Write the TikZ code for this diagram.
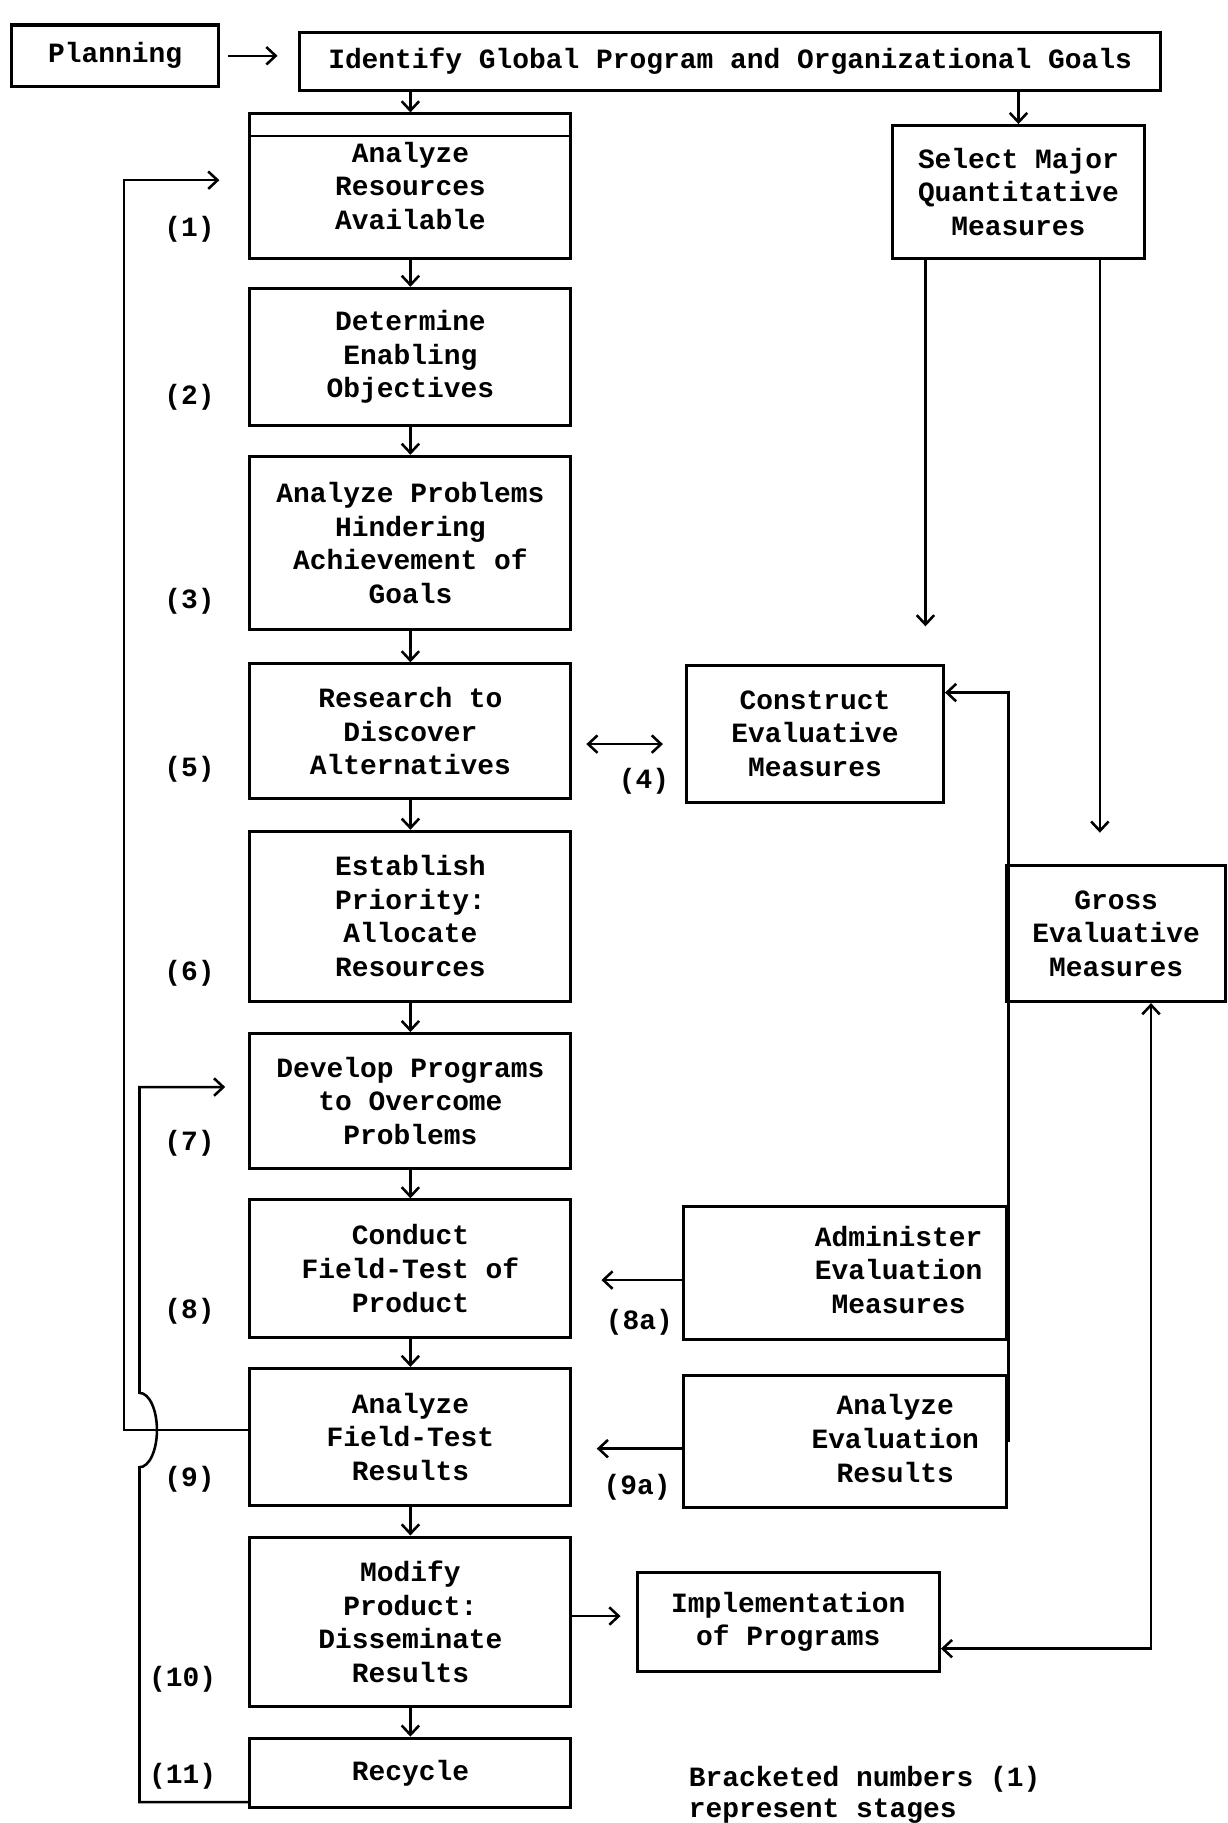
\documentclass[tikz,border=0pt]{standalone}
\usepackage{fontspec}
\setmainfont{Liberation Mono}
\usetikzlibrary{arrows.meta,calc}

\begin{document}
\begin{tikzpicture}[x=1pt,y=-1pt,line width=2.2pt,font=\fontsize{24}{29}\selectfont\bfseries,
  >={Straight Barb[length=8pt,width=15pt]},
  frame/.style={draw,line width=2.6pt,inner sep=2pt},
  box/.style={frame,align=center,minimum width=276},
  stg/.style={inner sep=1pt}]
\useasboundingbox (0,0) rectangle (1056,1568);
\node (plan) [box,minimum width=178,minimum height=53] at (99,48) {Planning};
\node (goals) [box,minimum width=740,minimum height=50] at (628,53) {Identify Global Program and Organizational Goals};
\node (s1) [box,minimum height=124] at (353,160) {Analyze\\Resources\\Available};
\node (s2) [box,minimum height=118] at (353,307) {Determine\\Enabling\\Objectives};
\node (s3) [box,minimum height=149] at (353,467) {Analyze Problems\\Hindering\\Achievement of\\Goals};
\node (s5) [box,minimum height=116] at (353,629) {Research to\\Discover\\Alternatives};
\node (s6) [box,minimum height=146] at (353,788) {Establish\\Priority:\\Allocate\\Resources};
\node (s7) [box,minimum height=116] at (353,947) {Develop Programs\\to Overcome\\Problems};
\node (s8) [box,minimum height=118] at (353,1091) {Conduct\\Field-Test of\\Product};
\node (s9) [box,minimum height=118] at (353,1236) {Analyze\\Field-Test\\Results};
\node (s10) [box,minimum height=146] at (353,1395) {Modify\\Product:\\Disseminate\\Results};
\node (s11) [box,minimum height=60] at (353,1525) {Recycle};
\node (sel) [box,minimum width=217,minimum height=114] at (876,165) {Select Major\\Quantitative\\Measures};
\node (con) [box,minimum width=221,minimum height=118] at (701,631) {Construct\\Evaluative\\Measures};
\node (gross) [box,minimum width=188,minimum height=117] at (960,803) {Gross\\Evaluative\\Measures};
\node (adm) [frame,minimum width=278,minimum height=115] at (727,1095) {\hspace*{92pt}\begin{tabular}{@{}c@{}}Administer\\Evaluation\\Measures\end{tabular}};
\node (aer) [frame,minimum width=278,minimum height=114] at (727,1240) {\hspace*{86pt}\begin{tabular}{@{}c@{}}Analyze\\Evaluation\\Results\end{tabular}};
\node (impl) [box,minimum width=260,minimum height=85] at (678,1395) {Implementation\\of Programs};
\node (l1) [stg] at (163,197) {(1)};
\node (l2) [stg] at (163,342) {(2)};
\node (l3) [stg] at (163,517) {(3)};
\node (l5) [stg] at (163,662) {(5)};
\node (l6) [stg] at (163,837) {(6)};
\node (l7) [stg] at (163,983) {(7)};
\node (l8) [stg] at (163,1128) {(8)};
\node (l9) [stg] at (163,1272) {(9)};
\node (l10) [stg] at (157,1444) {(10)};
\node (l11) [stg] at (157,1528) {(11)};
\node (l4) [stg] at (554,672) {(4)};
\node (l8a) [stg] at (550,1137) {(8a)};
\node (l9a) [stg] at (548,1279) {(9a)};
\node (note1) [anchor=west] at (588,1530) {Bracketed numbers (1)};
\node (note2) [anchor=west] at (588,1558) {represent stages};
\draw[line width=2pt] ($(s1.north west)+(0,20)$) -- ($(s1.north east)+(0,20)$);
\draw[->,shorten <=7,shorten >=18] (plan.east) -- (plan.east -| goals.west);
\draw[->] (goals.south -| s1.north) -- (s1.north);
\draw[->] (goals.south -| sel.north) -- (sel.north);
\foreach \from/\to in {s1/s2,s2/s3,s3/s5,s5/s6,s6/s7,s7/s8,s8/s9,s9/s10,s10/s11}
  \draw[->] (\from) -- (\to);
\draw[<->,shorten <=12,shorten >=19] ($(s5.east)+(0,11)$) -- ($(con.west)+(0,9)$);
\coordinate (sa) at ($(sel.south)+(-80,0)$);
\coordinate (sb) at ($(sel.south)+(70,0)$);
\draw[->,shorten >=32] (sa) -- (sa |- con.north);
\draw[->,shorten >=27] (sb) -- (sb |- gross.north);
\draw[->] (aer.east) |- ($(con.north east)+(0,25)$);
\coordinate (gi) at ($(gross.south)+(30,0)$);
\draw[<->] (gi) |- ($(impl.east)+(0,23)$);
\draw[->,shorten >=25] ($(adm.west)+(0,6)$) -- ($(s8.east)+(0,10)$);
\draw[->,shorten >=21] ($(aer.west)+(0,6)$) -- ($(s9.east)+(0,10)$);
\draw[->,shorten >=13] ($(s10.east)+(0,-5)$) -- ($(impl.west)+(0,-5)$);
\draw[->] ($(s9.west)+(0,-6)$) -| ($(s1.west)+(-107,-5)$) -- ($(s1.west)+(-25,-5)$);
\coordinate (hop) at (120,1262);
\draw[->] ($(s11.west)+(0,25)$) -| (hop) arc[start angle=90,end angle=-90,x radius=15,y radius=32] |- ($(s7.west)+(-20,-12)$);
\end{tikzpicture}
\end{document}
